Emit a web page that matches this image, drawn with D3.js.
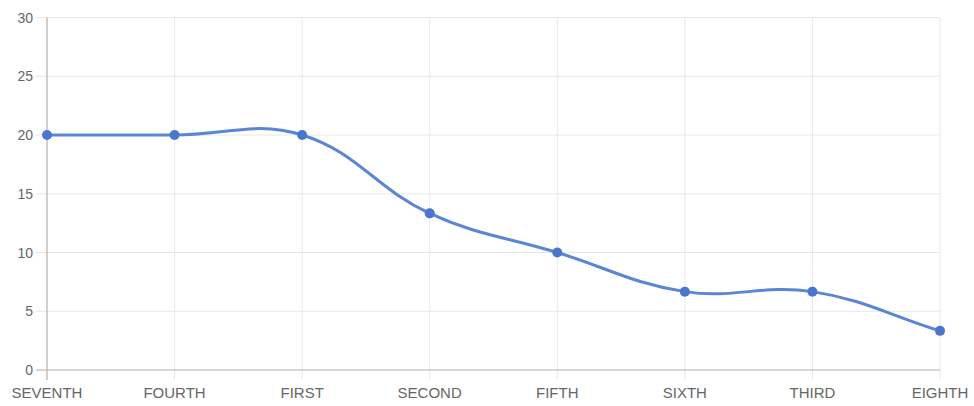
<!DOCTYPE html>
<html><head><meta charset="utf-8">
<script src="https://cdn.jsdelivr.net/npm/d3@7"></script>
<style>body{margin:0;background:#fff}svg{display:block}</style>
</head><body>
<svg id="c" width="974" height="406"></svg>
<script>
const categories = ["SEVENTH","FOURTH","FIRST","SECOND","FIFTH","SIXTH","THIRD","EIGHTH"];
const values = [20, 20, 20, 13.33, 10, 6.67, 6.67, 3.33];
const yTicks = [0, 5, 10, 15, 20, 25, 30];

(function () {
const svg = d3.select("#c");
const L = 47, R = 940, T = 17.5, B = 370;
const x = d3.scalePoint().domain(categories).range([L, R]);
const y = d3.scaleLinear().domain([0, 30]).range([B, T]);

// grid
svg.append("g").selectAll("line").data(yTicks.filter(d => d > 0)).join("line")
  .attr("x1", L - 11).attr("x2", R).attr("y1", d => y(d)).attr("y2", d => y(d))
  .attr("stroke", "#e8e8e8").attr("stroke-width", 1);
svg.append("g").selectAll("line").data(categories.slice(1)).join("line")
  .attr("x1", d => x(d)).attr("x2", d => x(d)).attr("y1", T).attr("y2", B + 10)
  .attr("stroke", "#e8e8e8").attr("stroke-width", 1);
// axis lines
svg.append("line").attr("x1", L - 11).attr("x2", R).attr("y1", y(0)).attr("y2", y(0))
  .attr("stroke", "#b0b0b0").attr("stroke-width", 1.2);
svg.append("line").attr("x1", L).attr("x2", L).attr("y1", T).attr("y2", B + 10)
  .attr("stroke", "#b0b0b0").attr("stroke-width", 1.2);

// y labels
svg.append("g").selectAll("text").data(yTicks).join("text")
  .attr("x", L - 14).attr("y", d => y(d)).attr("dy", "0.36em")
  .attr("text-anchor", "end").attr("font-family", "Liberation Sans, Arial, sans-serif")
  .attr("font-size", 14).attr("fill", "#666").text(d => d);
// x labels
svg.append("g").selectAll("text").data(categories).join("text")
  .attr("x", d => x(d)).attr("y", 398)
  .attr("text-anchor", "middle").attr("font-family", "Liberation Sans, Arial, sans-serif")
  .attr("font-size", 15).attr("fill", "#666").text(d => d);

// Chart.js-style spline (tension 0.4)
const pts = categories.map((c, i) => ({x: x(c), y: y(values[i])}));
const t = 0.4;
const cl = v => Math.max(T, Math.min(B, v));
const cps = pts.map((cur, i) => {
  const prev = pts[i - 1] || cur, next = pts[i + 1] || cur;
  const d01 = Math.hypot(cur.x - prev.x, cur.y - prev.y);
  const d12 = Math.hypot(next.x - cur.x, next.y - cur.y);
  let s01 = d01 / (d01 + d12), s12 = d12 / (d01 + d12);
  if (isNaN(s01)) s01 = 0; if (isNaN(s12)) s12 = 0;
  const fa = t * s01, fb = t * s12;
  return {
    px: cur.x - fa * (next.x - prev.x), py: cl(cur.y - fa * (next.y - prev.y)),
    nx: cur.x + fb * (next.x - prev.x), ny: cl(cur.y + fb * (next.y - prev.y))
  };
});
const p = d3.path();
p.moveTo(pts[0].x, pts[0].y);
for (let i = 1; i < pts.length; i++) {
  p.bezierCurveTo(cps[i - 1].nx, cps[i - 1].ny, cps[i].px, cps[i].py, pts[i].x, pts[i].y);
}
svg.append("path").attr("d", p.toString()).attr("fill", "none")
  .attr("stroke", "#5b86d6").attr("stroke-width", 3);

svg.append("g").selectAll("circle").data(pts).join("circle")
  .attr("cx", d => d.x).attr("cy", d => d.y).attr("r", 5)
  .attr("fill", "#4a77cc");
})();
</script>
</body></html>
